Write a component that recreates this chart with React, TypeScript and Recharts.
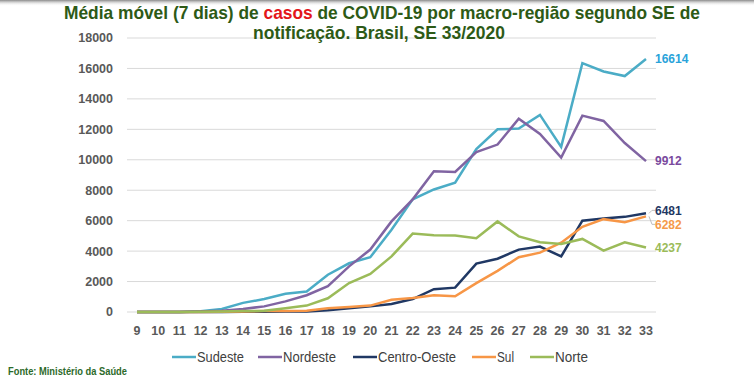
import React from 'react';
import { LineChart, Line, XAxis, YAxis, CartesianGrid } from 'recharts';

const weeks = ['9', '10', '11', '12', '13', '14', '15', '16', '17', '18', '19', '20', '21', '22', '23', '24', '25', '26', '27', '28', '29', '30', '31', '32', '33'];
const sudeste = [0, 0, 0, 50, 200, 600, 850, 1200, 1350, 2450, 3200, 3600, 5400, 7400, 8050, 8500, 10700, 12000, 12050, 12950, 10850, 16350, 15800, 15500, 16614];
const nordeste = [0, 0, 0, 30, 80, 200, 370, 700, 1100, 1700, 3000, 4100, 5950, 7400, 9250, 9200, 10500, 11000, 12700, 11700, 10150, 12900, 12550, 11100, 9912];
const centroOeste = [0, 0, 0, 0, 5, 10, 20, 30, 40, 120, 250, 370, 530, 850, 1500, 1600, 3180, 3500, 4100, 4300, 3650, 6000, 6150, 6250, 6481];
const sul = [0, 0, 0, 5, 20, 40, 60, 70, 80, 250, 330, 420, 800, 920, 1100, 1030, 1900, 2700, 3600, 3900, 4550, 5600, 6100, 5900, 6282];
const norte = [0, 0, 0, 10, 30, 60, 80, 250, 420, 900, 1900, 2500, 3650, 5150, 5050, 5020, 4850, 5950, 4970, 4580, 4470, 4800, 4030, 4580, 4237];
const yTicks = [0, 2000, 4000, 6000, 8000, 10000, 12000, 14000, 16000, 18000];

const seriesNames = ['Sudeste', 'Nordeste', 'Centro-Oeste', 'Sul', 'Norte'];
const seriesValues = [sudeste, nordeste, centroOeste, sul, norte];
const seriesColors = ['#4BACC6', '#8064A2', '#203864', '#F79646', '#9BBB59'];
const labelColors = ['#2AA3DA', '#7A4A9E', '#1F3864', '#F59A4A', '#9BBB59'];
const labelDy = [0, 0, -3, 8, 0];
const legendLineX = [172, 258, 353, 472, 530];
const legendTextW = [47, 53, 78, 17, 33];

const data = weeks.map((w, i) => {
  const row: Record<string, number | string> = { week: w };
  seriesNames.forEach((n, s) => {
    row[n] = seriesValues[s][i];
  });
  return row;
});

const FONT = "'Liberation Sans', Arial, sans-serif";
const lastIndex = weeks.length - 1;

const makeEndLabel = (s: number) => (props: any) => {
  const { x, y, index, value } = props;
  if (index !== lastIndex) return null;
  const dy = labelDy[s];
  return (
    <g>
      {dy !== 0 && (
        <polyline
          points={`${x + 3},${y} ${x + 6},${y + dy} ${x + 9},${y + dy}`}
          fill="none"
          stroke="#bfbfbf"
          strokeWidth={1}
        />
      )}
      <text
        x={x + 9}
        y={y + dy}
        dy="0.35em"
        fill={labelColors[s]}
        fontSize={12}
        fontWeight="bold"
        fontFamily={FONT}
        textAnchor="start"
      >
        {value}
      </text>
    </g>
  );
};

export default function App() {
  return (
    <div style={{ position: 'absolute', left: 0, top: 0, width: 754, height: 380, background: '#fff', overflow: 'hidden' }}>
      <LineChart width={754} height={380} data={data} margin={{ top: 38, right: 98, bottom: 38, left: 0 }}>
        <CartesianGrid vertical={false} stroke="#d9d9d9" strokeWidth={1} />
        <XAxis
          dataKey="week"
          axisLine={false}
          tickLine={false}
          tickSize={0}
          tickMargin={14}
          height={30}
          padding={{ left: 10, right: 10 }}
          interval={0}
          tick={{ fill: '#595959', fontSize: 12.5, fontWeight: 'bold', fontFamily: FONT }}
        />
        <YAxis
          domain={[0, 18000]}
          ticks={yTicks}
          width={127}
          axisLine={false}
          tickLine={false}
          tickSize={0}
          tickMargin={14}
          tick={{ fill: '#595959', fontSize: 12.5, fontWeight: 'bold', fontFamily: FONT }}
        />
        {seriesNames.map((n, s) => (
          <Line
            key={n}
            type="linear"
            dataKey={n}
            stroke={seriesColors[s]}
            strokeWidth={2.5}
            dot={false}
            activeDot={false}
            isAnimationActive={false}
            label={makeEndLabel(s)}
          />
        ))}
      </LineChart>
      <svg width={754} height={380} style={{ position: 'absolute', left: 0, top: 0, pointerEvents: 'none' }}>
        <defs>
          <linearGradient id="topShade" x1="0" y1="0" x2="0" y2="1">
            <stop offset="0" stopColor="#8a8a8a" />
            <stop offset="1" stopColor="#ffffff" stopOpacity={0} />
          </linearGradient>
        </defs>
        <rect x={0} y={0} width={754} height={6} fill="url(#topShade)" />
        <text x={64} y={19} fontFamily={FONT} fontWeight="bold" fontSize={19} fill="#2D5A16" textLength={636} lengthAdjust="spacingAndGlyphs">
          Média móvel (7 dias) de <tspan fill="#E3161B">casos</tspan> de COVID-19 por macro-região segundo SE de
        </text>
        <text x={253} y={39} fontFamily={FONT} fontWeight="bold" fontSize={19} fill="#2D5A16" textLength={252} lengthAdjust="spacingAndGlyphs">
          notificação. Brasil, SE 33/2020
        </text>
        {seriesNames.map((n, s) => (
          <g key={n}>
            <line x1={legendLineX[s]} x2={legendLineX[s] + 24} y1={357} y2={357} stroke={seriesColors[s]} strokeWidth={2.5} />
            <text
              x={legendLineX[s] + 25}
              y={357}
              dy="0.35em"
              fontFamily={FONT}
              fontSize={14}
              fill="#404040"
              textLength={legendTextW[s]}
              lengthAdjust="spacingAndGlyphs"
            >
              {n}
            </text>
          </g>
        ))}
        <text x={8} y={371} dy="0.35em" fontFamily={FONT} fontWeight="bold" fontSize={11} fill="#2D6A2A" textLength={119} lengthAdjust="spacingAndGlyphs">
          Fonte: Ministério da Saúde
        </text>
      </svg>
    </div>
  );
}
